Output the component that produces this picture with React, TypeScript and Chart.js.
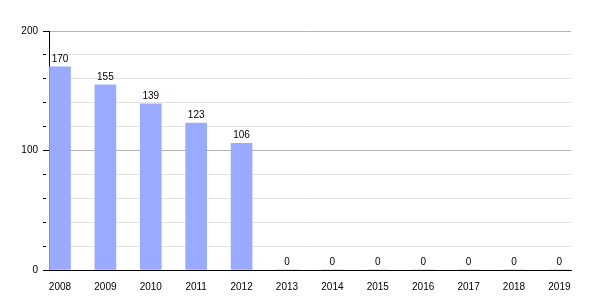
import React, { useEffect, useRef } from "react";
import { Chart, registerables } from "chart.js";

Chart.register(...registerables);

const categories = ["2008", "2009", "2010", "2011", "2012", "2013", "2014", "2015", "2016", "2017", "2018", "2019"];
const values = [170, 155, 139, 123, 106, 0, 0, 0, 0, 0, 0, 0];
const yMajorTicks = [0, 100, 200];

const FONT = '"Liberation Sans", Arial, Helvetica, sans-serif';

const valueLabels = {
  id: "valueLabels",
  afterDatasetsDraw(chart: any) {
    const ctx = chart.ctx;
    const meta = chart.getDatasetMeta(0);
    ctx.save();
    ctx.font = `10px ${FONT}`;
    ctx.fillStyle = "#000";
    ctx.textAlign = "center";
    ctx.textBaseline = "alphabetic";
    meta.data.forEach((bar: any, i: number) => {
      ctx.fillText(String(values[i]), bar.x, bar.y - 5);
    });
    ctx.restore();
  },
};

export default function App() {
  const ref = useRef<HTMLCanvasElement>(null);
  useEffect(() => {
    const chart = new Chart(ref.current!, {
      type: "bar",
      data: {
        datasets: [
          {
            data: categories.map((_, i) => ({ x: i, y: values[i] })),
            backgroundColor: "#99aaff",
            barThickness: 21,
          },
        ],
      },
      plugins: [valueLabels],
      options: {
        animation: false,
        responsive: false,
        layout: { padding: { top: 31, right: 29, left: 0, bottom: 0 } },
        plugins: { legend: { display: false }, tooltip: { enabled: false } },
        scales: {
          x: {
            type: "linear",
            offset: false,
            min: -0.242,
            max: 11.256,
            afterFit: (s: any) => {
              s.height = 30;
            },
            afterBuildTicks: (s: any) => {
              s.ticks = categories.map((_, i) => ({ value: i }));
            },
            grid: { display: false },
            border: { display: true, color: "#000", width: 1 },
            ticks: {
              autoSkip: false,
              maxRotation: 0,
              padding: 3,
              color: "#000",
              font: { family: FONT, size: 10 },
              callback: (v: any) => categories[v as number] ?? "",
            },
          },
          y: {
            min: 0,
            max: 200,
            afterFit: (s: any) => {
              s.width = 49;
            },
            border: { display: true, color: "#000", width: 1 },
            grid: {
              color: (c: any) =>
                c.tick.value === 0 ? "#000" : yMajorTicks.includes(c.tick.value) ? "#b4b4b4" : "#e4e4e4",
              tickColor: "#000",
              tickLength: 6,
              tickBorderDash: (c: any) => (yMajorTicks.includes(c.tick.value) ? [] : [3, 20]),
            },
            ticks: {
              stepSize: 20,
              padding: 5,
              color: "#000",
              font: { family: FONT, size: 10 },
              callback: (v: any) => (yMajorTicks.includes(v) ? String(v) : ""),
            },
          },
        },
      },
    });
    return () => chart.destroy();
  }, []);
  return (
    <div style={{ position: "fixed", left: 0, top: 0, width: 600, height: 300, background: "#fff" }}>
      <canvas ref={ref} width={600} height={300} style={{ display: "block" }} />
    </div>
  );
}
